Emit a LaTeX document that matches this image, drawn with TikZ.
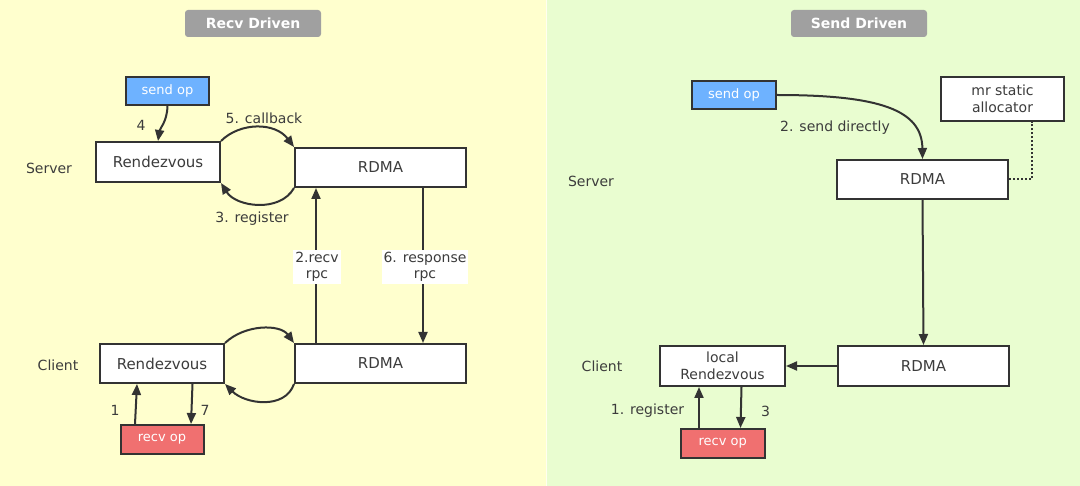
\documentclass[tikz,border=0pt]{standalone}
\usepackage{fontspec}
\setmainfont{DejaVu Sans}
\usetikzlibrary{arrows.meta,calc}
\definecolor{bgyellow}{RGB}{255,255,206}
\definecolor{bggreen}{RGB}{233,253,208}
\definecolor{linec}{RGB}{51,51,51}
\definecolor{textc}{RGB}{60,60,60}
\definecolor{opblue}{RGB}{110,178,255}
\definecolor{opred}{RGB}{240,112,112}
\definecolor{titlegray}{RGB}{160,160,160}
\tikzset{
  boxnode/.style={draw=linec, line width=2pt, fill=white, rectangle, inner sep=0pt,
    text=textc, font=\fontsize{15}{17}\selectfont, align=center},
  opnode/.style={draw=linec, line width=2pt, rectangle, inner sep=0pt,
    text=white, font=\fontsize{13}{15}\selectfont},
  titlenode/.style={fill=titlegray, rounded corners=3pt, inner sep=0pt, text=white,
    font=\bfseries\fontsize{14}{16}\selectfont},
  lbl/.style={text=textc, font=\fontsize{14}{16}\selectfont, inner sep=1pt, align=center},
  wlbl/.style={lbl, fill=white, inner sep=2pt},
  conn/.style={draw=linec, line width=2pt, -{Triangle[length=11pt,width=9pt]}},
  dotconn/.style={draw=linec, line width=2pt, dotted}
}
\begin{document}
\begin{tikzpicture}[x=1pt,y=-1pt]
\useasboundingbox (0,0) rectangle (1080,486);
\fill[bgyellow] (0,0) rectangle (1080,486);
\fill[bggreen] (547,0) rectangle (1080,486);
\draw[white, line width=1pt, opacity=0.7] (546.5,0) -- (546.5,486);

% ---------- Left: Recv Driven ----------
\node[titlenode, minimum width=136pt, minimum height=27pt] (t1) at (253,23.5) {Recv Driven};

\node[opnode, fill=opblue, minimum width=83pt, minimum height=28pt] (sendL) at (167.5,91) {send op};
\node[boxnode, minimum width=124pt, minimum height=40pt] (rzS) at (158,162) {Rendezvous};
\node[boxnode, minimum width=171pt, minimum height=39pt] (rdmaS) at (380.5,167.5) {RDMA};
\node[boxnode, minimum width=124pt, minimum height=39pt] (rzC) at (162,363.5) {Rendezvous};
\node[boxnode, minimum width=171pt, minimum height=39pt] (rdmaC) at (380.5,363.5) {RDMA};
\node[opnode, fill=opred, minimum width=83pt, minimum height=29pt] (recvL) at (162,439.5) {recv op};

\node[lbl] (lsrv) at (49,168) {Server};
\node[lbl] (lcli) at (58,365) {Client};
\node[lbl] (l4) at (141,125) {4};
\node[lbl] (l5) at (264,118) {5. callback};
\node[lbl] (l3) at (252,219) {3. register};
\node[lbl] (l1) at (115,410) {1};
\node[lbl] (l7) at (205,410) {7};

\draw[conn] (sendL.south) .. controls (167,122) and (160,128) .. (rzS.north);
\draw[conn] (rzS.north east) .. controls (240,122) and (275,122) .. (rdmaS.north west);
\draw[conn] (rdmaS.south west) .. controls (280,213) and (236,207) .. (rzS.south east);

\coordinate (a2s) at ($(rdmaC.north west)+(22,0)$);
\coordinate (a2e) at ($(rdmaS.south west)+(22,0)$);
\draw[conn] (a2s) -- (a2e);
\node[wlbl] (l2) at (317,267) {2.recv\\rpc};

\coordinate (a6s) at ($(rdmaS.south west)+(129,0)$);
\coordinate (a6e) at ($(rdmaC.north west)+(129,0)$);
\draw[conn] (a6s) -- (a6e);
\node[wlbl] (l6) at (425,267) {6. response\\rpc};

\draw[conn] (rzC.north east) .. controls (245,324) and (280,324) .. (rdmaC.north west);
\draw[conn] (rdmaC.south west) .. controls (285,410) and (245,404) .. (rzC.south east);

\coordinate (a1s) at ($(recvL.north west)+(15.5,0)$);
\coordinate (a1e) at ($(rzC.south west)+(38,0)$);
\draw[conn] (a1s) -- (a1e);
\coordinate (a7s) at ($(rzC.south west)+(93.5,0)$);
\coordinate (a7e) at ($(recvL.north west)+(71.5,0)$);
\draw[conn] (a7s) -- (a7e);

% ---------- Right: Send Driven ----------
\node[titlenode, minimum width=136pt, minimum height=27pt] (t2) at (859,23.5) {Send Driven};

\node[opnode, fill=opblue, minimum width=84pt, minimum height=28pt] (sendR) at (734,95) {send op};
\node[boxnode, minimum width=123pt, minimum height=44pt, font=\fontsize{14}{17}\selectfont] (alloc) at (1002.5,99) {mr static\\allocator};
\node[boxnode, minimum width=171pt, minimum height=39pt] (rdmaRS) at (922.5,179.5) {RDMA};
\node[boxnode, minimum width=171pt, minimum height=40pt] (rdmaRC) at (923.5,366) {RDMA};
\node[boxnode, minimum width=125pt, minimum height=40pt, font=\fontsize{14}{17}\selectfont] (lrz) at (722.5,366) {local\\Rendezvous};
\node[opnode, fill=opred, minimum width=83.5pt, minimum height=29pt] (recvR) at (722.75,443.5) {recv op};

\node[lbl] (rsrv) at (591,181) {Server};
\node[lbl] (rcli) at (602,366) {Client};
\node[lbl] (r2) at (835,128) {2. send directly};
\node[lbl] (r1) at (647.5,411) {1. register};
\node[lbl] (r3) at (765.5,411) {3};

\draw[conn] (sendR.east) .. controls (880,95) and (922,110) .. (rdmaRS.north);
\coordinate (dotc) at ($(alloc.south)+(29.5,0)$);
\draw[dotconn] (rdmaRS.east) -| (dotc);
\draw[conn] (rdmaRS.south) -- (rdmaRC.north);
\draw[conn] (rdmaRC.west) -- (lrz.east);
\coordinate (b1s) at ($(recvR.north west)+(19,0)$);
\coordinate (b1e) at ($(lrz.south west)+(40,0)$);
\draw[conn] (b1s) -- (b1e);
\coordinate (b3s) at ($(lrz.south west)+(82.5,0)$);
\coordinate (b3e) at ($(recvR.north west)+(60.5,0)$);
\draw[conn] (b3s) -- (b3e);
\end{tikzpicture}
\end{document}
